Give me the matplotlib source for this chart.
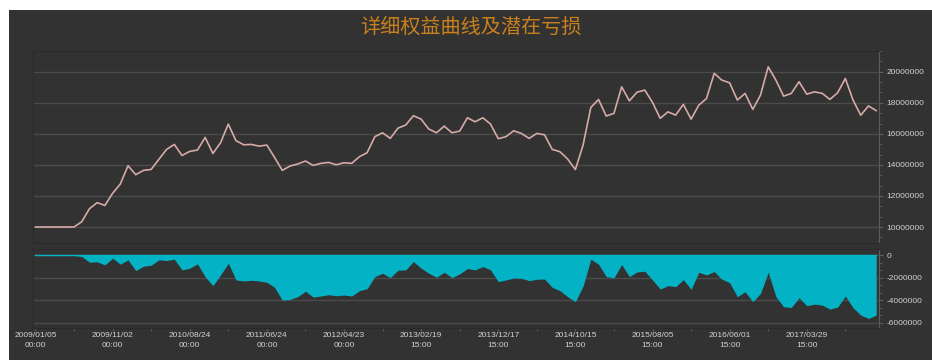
"""Equity curve with potential drawdown panel (dark theme)."""

import matplotlib
matplotlib.use('Agg')
import matplotlib.pyplot as plt
from matplotlib.patches import Rectangle
from matplotlib.ticker import FuncFormatter, MultipleLocator, AutoMinorLocator

plt.rcParams['font.family'] = ['Liberation Sans', 'DejaVu Sans']
plt.rcParams['axes.unicode_minus'] = False

#####################################################################################

title = '详细权益曲线及潜在亏损'

# equity (millions), one value per bar index
equity = [10.0, 10.0, 10.0, 10.0, 10.0, 10.0, 10.34, 11.18, 11.57, 11.39,
          12.17, 12.77, 13.95, 13.37, 13.65, 13.71, 14.36, 15.0, 15.32, 14.61,
          14.87, 14.96, 15.77, 14.74, 15.43, 16.63, 15.56, 15.30, 15.32, 15.21,
          15.28, 14.48, 13.65, 13.93, 14.06, 14.25, 13.97, 14.10, 14.16, 14.01,
          14.14, 14.10, 14.53, 14.79, 15.82, 16.07, 15.71, 16.37, 16.57, 17.17,
          16.95, 16.31, 16.07, 16.50, 16.07, 16.18, 17.04, 16.78, 17.04, 16.63,
          15.69, 15.82, 16.20, 16.03, 15.71, 16.03, 15.94, 15.0, 14.85, 14.38,
          13.70, 15.28, 17.70, 18.22, 17.15, 17.32, 19.03, 18.13, 18.69, 18.82,
          18.03, 17.00, 17.42, 17.21, 17.90, 16.95, 17.85, 18.28, 19.90, 19.46,
          19.29, 18.18, 18.61, 17.58, 18.50, 20.32, 19.46, 18.43, 18.61, 19.36,
          18.56, 18.71, 18.61, 18.22, 18.65, 19.57, 18.18, 17.20, 17.80, 17.50]

# potential loss (millions)
drawdown = [0.0, 0.0, 0.0, 0.0, 0.0, 0.0, -0.09, -0.60, -0.57, -0.84,
            -0.24, -0.78, -0.39, -1.35, -0.96, -0.87, -0.39, -0.45, -0.33, -1.29,
            -1.14, -0.75, -1.90, -2.70, -1.74, -0.69, -2.19, -2.28, -2.22, -2.28,
            -2.40, -2.85, -4.00, -3.93, -3.69, -3.20, -3.72, -3.63, -3.51, -3.60,
            -3.54, -3.63, -3.15, -2.97, -1.89, -1.59, -1.98, -1.32, -1.29, -0.54,
            -1.14, -1.59, -1.95, -1.50, -1.98, -1.65, -1.17, -1.29, -0.99, -1.29,
            -2.34, -2.19, -2.01, -2.04, -2.25, -2.13, -2.10, -2.85, -3.15, -3.69,
            -4.14, -2.73, -0.33, -0.78, -1.89, -2.00, -0.81, -1.89, -1.47, -1.41,
            -2.19, -3.00, -2.70, -2.79, -2.16, -3.03, -1.50, -1.74, -1.44, -2.13,
            -2.43, -3.69, -3.24, -4.14, -3.39, -1.50, -3.69, -4.59, -4.65, -3.78,
            -4.50, -4.35, -4.44, -4.80, -4.62, -3.63, -4.68, -5.34, -5.64, -5.34]

tick_idx = [0, 10, 20, 30, 40, 50, 60, 70, 80, 90, 100]
tick_labels = ['2009/01/05\n00:00', '2009/11/02\n00:00', '2010/08/24\n00:00',
               '2011/06/24\n00:00', '2012/04/23\n00:00', '2013/02/19\n15:00',
               '2013/12/17\n15:00', '2014/10/15\n15:00', '2015/08/05\n15:00',
               '2016/06/01\n15:00', '2017/03/29\n15:00']

#####################################################################################

bg = '#323232'
grid_c = '#4b4b4b'
text_c = '#d2d2d2'

x = list(range(len(equity)))
eq = [v * 1e6 for v in equity]
dd = [v * 1e6 for v in drawdown]

fig = plt.figure(figsize=(9.32, 3.6), dpi=100, facecolor='white')
fig.patches.append(Rectangle((9 / 932, 0), 1, 1 - 10 / 360, transform=fig.transFigure,
                             facecolor=bg, edgecolor='none', zorder=-10))

fig.text(471 / 932, 1 - 27 / 360, title, family=['Noto Sans CJK SC', 'DejaVu Sans'],
         fontsize=14.5, color='#c8801c', ha='center', va='center')

ax1 = fig.add_axes([33 / 932, 1 - 243 / 360, 845.5 / 932, 192 / 360])
ax2 = fig.add_axes([33 / 932, 1 - 328 / 360, 845.5 / 932, 79 / 360], sharex=ax1)


def style(ax):
    ax.set_facecolor(bg)
    ax.yaxis.tick_right()
    for side in ['left', 'top', 'bottom']:
        ax.spines[side].set_color('#2a2a2a')
    ax.spines['right'].set_color('#5c5c5c')
    ax.grid(axis='y', color=grid_c, linewidth=1.0)
    ax.set_axisbelow(True)
    ax.tick_params(axis='y', colors='#5c5c5c', labelcolor=text_c, labelsize=6,
                   length=3, pad=3)
    ax.tick_params(axis='y', which='minor', colors='#5c5c5c', length=2)
    ax.yaxis.set_major_formatter(FuncFormatter(lambda v, p: '%d' % v))
    ax.yaxis.set_minor_locator(AutoMinorLocator(3))


# equity curve
style(ax1)
ax1.plot(x, eq, color='#d6aaa6', linewidth=1.2)
ax1.set_ylim(8.97e6, 21.34e6)
ax1.yaxis.set_major_locator(MultipleLocator(2e6))
ax1.tick_params(axis='x', which='both', bottom=False, labelbottom=False)

# potential loss
style(ax2)
ax2.fill_between(x, dd, 0, color='#04b2c5', linewidth=0)
ax2.plot(x, [0] * len(x), color='#04b2c5', linewidth=1.0)
ax2.set_ylim(-6.49e6, 0.58e6)
ax2.yaxis.set_major_locator(MultipleLocator(2e6))

ax2.set_xlim(-0.32, 109.3)
ax2.set_xticks(tick_idx)
ax2.set_xticklabels(tick_labels, linespacing=1.5)
ax2.xaxis.set_minor_locator(MultipleLocator(5))
ax2.tick_params(axis='x', which='both', colors='#5c5c5c', labelcolor=text_c,
                labelsize=6, length=2, pad=1)

fig.savefig('out.png', dpi=100, facecolor=fig.get_facecolor())
